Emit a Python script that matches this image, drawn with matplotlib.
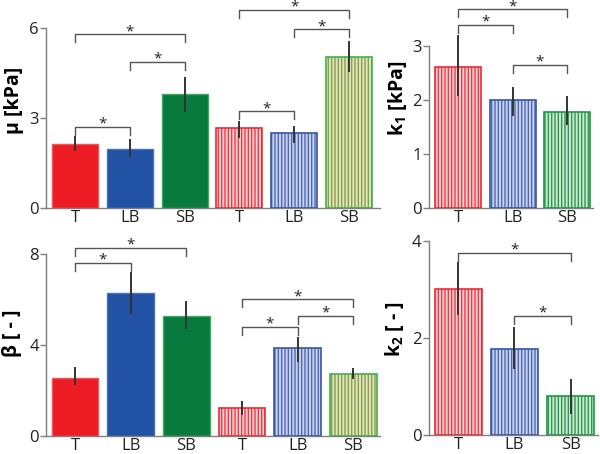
import matplotlib
matplotlib.use('Agg')
import matplotlib.pyplot as plt
import numpy as np

plt.rcParams['font.family'] = ['Open Sans', 'DejaVu Sans']
plt.rcParams['mathtext.fontset'] = 'custom'
plt.rcParams['mathtext.rm'] = 'Open Sans'
plt.rcParams['mathtext.bf'] = 'Open Sans:bold'
plt.rcParams['hatch.linewidth'] = 1.0

# Data
groups6 = ['T', 'LB', 'SB', 'T', 'LB', 'SB']
groups3 = ['T', 'LB', 'SB']

mu_vals = [2.14, 1.99, 3.82, 2.66, 2.51, 5.05]
mu_lo = [1.93, 1.73, 3.23, 2.38, 2.21, 4.57]
mu_hi = [2.38, 2.29, 4.34, 2.88, 2.71, 5.54]
mu_sig = [(0, 1, 2.71), (0, 2, 5.80), (1, 2, 4.88), (3, 4, 3.23), (3, 5, 6.62), (4, 5, 5.96)]

beta_vals = [2.55, 6.27, 5.27, 1.20, 3.85, 2.70]
beta_lo = [2.28, 5.39, 4.76, 0.94, 3.29, 2.53]
beta_hi = [3.00, 7.15, 5.90, 1.50, 4.32, 2.92]
beta_sig = [(0, 1, 7.60), (0, 2, 8.28), (3, 4, 4.80), (3, 5, 6.00), (4, 5, 5.27)]

k1_vals = [2.62, 2.00, 1.78]
k1_lo = [2.10, 1.73, 1.55]
k1_hi = [3.18, 2.22, 2.06]
k1_sig = [(0, 1, 3.39), (0, 2, 3.68), (1, 2, 2.65)]

k2_vals = [3.02, 1.77, 0.81]
k2_lo = [2.49, 1.38, 0.45]
k2_hi = [3.54, 2.21, 1.14]
k2_sig = [(0, 2, 3.76), (1, 2, 2.46)]

# Styles: (face, stripe, edge); stripe None = solid bar
solid = [('#ED1C24', None, '#F2545C'), ('#2152A3', None, '#4A70B8'), ('#087A3E', None, '#3DAA62')]
striped_left = [('#FAD3D5', '#EE3A44', '#EE2A35'), ('#CBD3EC', '#4E68B4', '#3556A8'),
                ('#DFE5C4', '#8C9E40', '#3CB44A')]
striped_right = [('#FAD3D5', '#EE3A44', '#EE2A35'), ('#CBD3EC', '#4E68B4', '#3556A8'),
                 ('#CDE8D4', '#2E9A4E', '#1E9A48')]

GRAY = '#7F7F7F'
TXT = '#222222'
W = 0.84


def draw_panel(ax, labels, vals, lo, hi, sig, styles, ylim, yticks, xlim, ylabel, lab_pos):
    x = np.arange(len(vals))
    for i in x:
        face, stripe, edge = styles[i]
        if stripe is None:
            ax.bar(i, vals[i], W, color=face, edgecolor=edge, linewidth=1.0, zorder=2)
        else:
            ax.bar(i, vals[i], W, color=face, edgecolor=stripe, linewidth=0, hatch='|||||', zorder=2)
            ax.bar(i, vals[i], W, fill=False, edgecolor=edge, linewidth=1.2, zorder=3)
        ax.plot([i, i], [lo[i], hi[i]], color='#333333', lw=1.4, zorder=4, clip_on=False)
    ax.set_xlim(*xlim)
    ax.set_ylim(*ylim)
    ax.set_yticks(yticks)
    ax.set_xticks(x)
    ax.set_xticklabels(labels)
    # bracket legs ~8 px
    inv = ax.transData.inverted()
    p0 = inv.transform(ax.transData.transform((0, 0)) + np.array([0, 8]))
    leg = p0[1]
    for a, b, y in sig:
        ax.plot([a, a, b, b], [y - leg, y, y, y - leg], color='#555555', lw=1.0,
                clip_on=False, zorder=5)
        ax.annotate('*', ((a + b) / 2, y), xytext=(0, -3.5), textcoords='offset points',
                    ha='center', va='bottom', fontsize=11, color=TXT, annotation_clip=False)
    for s in ['top', 'right']:
        ax.spines[s].set_visible(False)
    for s in ['left', 'bottom']:
        ax.spines[s].set_color(GRAY)
        ax.spines[s].set_linewidth(1.0)
    ax.tick_params(axis='y', direction='out', length=4, width=1, color=GRAY,
                   labelsize=12, labelcolor=TXT, pad=1)
    ax.tick_params(axis='x', length=0, labelsize=12, labelcolor=TXT, pad=1.5)
    ax.text(lab_pos[0], lab_pos[1], ylabel, transform=ax.transAxes, rotation=90,
            ha='center', va='center', fontsize=14, fontweight='bold', color='black')


fig = plt.figure(figsize=(6, 4.54), dpi=100)

ax1 = fig.add_axes([0.0762, 0.5412, 0.5572, 0.3965])
draw_panel(ax1, groups6, mu_vals, mu_lo, mu_hi, mu_sig, solid + striped_left,
           (0, 6), [0, 3, 6], (-0.535, 5.57), 'μ [kPa]', (-0.095, 0.60))

ax2 = fig.add_axes([0.715, 0.5412, 0.2733, 0.3575])
draw_panel(ax2, groups3, k1_vals, k1_lo, k1_hi, k1_sig, striped_right,
           (0, 3.0), [0, 1, 2, 3], (-0.53, 2.47), r'k$_{\mathbf{1}}$ [kPa]', (-0.19, 0.68))

ax3 = fig.add_axes([0.0762, 0.0403, 0.5572, 0.4002])
draw_panel(ax3, groups6, beta_vals, beta_lo, beta_hi, beta_sig, solid + striped_left,
           (0, 8), [0, 4, 8], (-0.526, 5.48), 'β [ - ]', (-0.1, 0.565))

ax4 = fig.add_axes([0.7142, 0.0419, 0.2825, 0.4273])
draw_panel(ax4, groups3, k2_vals, k2_lo, k2_hi, k2_sig, striped_right,
           (0, 4), [0, 2, 4], (-0.53, 2.49), r'k$_{\mathbf{2}}$ [ - ]', (-0.2, 0.545))

fig.savefig('out.png', dpi=100)
